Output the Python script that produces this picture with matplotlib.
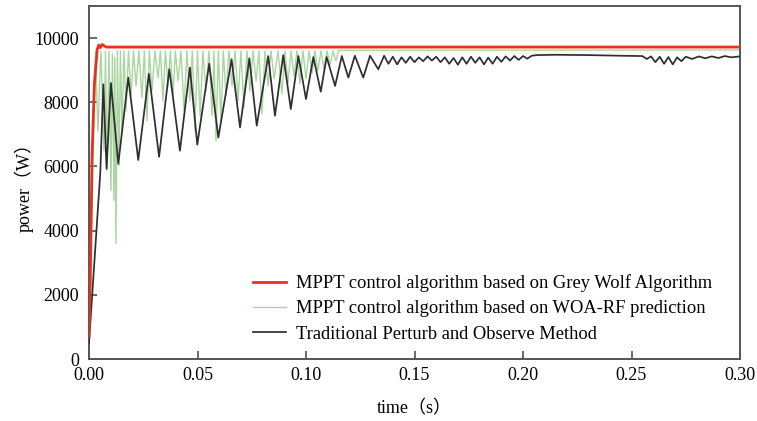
import numpy as np
import matplotlib
matplotlib.use("Agg")
import matplotlib.pyplot as plt

# --- values ---
red_t = [0.0, 0.0006, 0.0014, 0.0025, 0.0038, 0.0045, 0.0052, 0.0060, 0.0070, 0.0080, 0.30]
red_p = [700, 2500, 6300, 8600, 9650, 9780, 9700, 9800, 9760, 9720, 9720]

green_t = [0.0, 0.0030, 0.0041, 0.0055, 0.0069, 0.0076, 0.0083, 0.0092, 0.0101, 0.0108,
           0.0115, 0.0119, 0.0124, 0.0131, 0.0138, 0.0145, 0.0152, 0.0161, 0.0171, 0.0182,
           0.0194, 0.0205, 0.0217, 0.0230, 0.0244, 0.0255, 0.0267, 0.0278, 0.0290, 0.0304,
           0.0318, 0.0329, 0.0341, 0.0352, 0.0364, 0.0375, 0.0387, 0.0398, 0.0410, 0.0424,
           0.0438, 0.0451, 0.0465, 0.0476, 0.0488, 0.0500, 0.0512, 0.0525, 0.0539, 0.0553,
           0.0567, 0.0576, 0.0585, 0.0596, 0.0608, 0.0619, 0.0631, 0.0645, 0.0659, 0.0673,
           0.0687, 0.0700, 0.0714, 0.0728, 0.0742, 0.0756, 0.0770, 0.0783, 0.0797, 0.0811,
           0.0825, 0.0839, 0.0853, 0.0871, 0.0889, 0.0903, 0.0917, 0.0931, 0.0945, 0.0958,
           0.0972, 0.0986, 0.1000, 0.1014, 0.1028, 0.1041, 0.1055, 0.1069, 0.1083, 0.1097,
           0.1111, 0.1124, 0.1138, 0.1150, 0.30]
green_p = [700, 9600, 7100, 9600, 6490, 9600, 5870, 9600, 5250, 9500,
           4940, 9400, 3600, 9600, 6030, 9600, 7100, 9600, 7730, 9600,
           8200, 9600, 8510, 9600, 8140, 9600, 7420, 9600, 8350, 9600,
           8760, 9600, 8040, 9600, 8510, 9600, 8200, 9600, 8660, 9600,
           7730, 9600, 8040, 9600, 7110, 9600, 7580, 9600, 8350, 9600,
           7580, 9600, 6800, 9600, 7420, 9600, 8200, 9600, 8510, 9600,
           8040, 9600, 7830, 9600, 8350, 9600, 8660, 9600, 7640, 9600,
           8510, 9600, 8730, 9600, 8260, 9600, 8600, 9600, 8820, 9600,
           8570, 9600, 8730, 9600, 8910, 9600, 8980, 9600, 9040, 9600,
           9160, 9600, 9290, 9620, 9630]

black_t = [0.0, 0.0052, 0.0066, 0.0081, 0.0101, 0.0135, 0.0181, 0.0227, 0.0276, 0.0323,
           0.0370, 0.0419, 0.0465, 0.0499, 0.0554, 0.0596, 0.0657, 0.0696, 0.0739, 0.0773,
           0.0826, 0.0857, 0.0895, 0.0930, 0.0965, 0.1000, 0.1034, 0.1068, 0.1095, 0.1134,
           0.1165, 0.1195, 0.1225, 0.1264, 0.1295, 0.1333, 0.1360, 0.1380, 0.1400, 0.1420,
           0.1440, 0.1460, 0.1480, 0.1500, 0.1520, 0.1540, 0.1560, 0.1580, 0.1600, 0.1620,
           0.1640, 0.1660, 0.1680, 0.1700, 0.1720, 0.1740, 0.1760, 0.1780, 0.1800, 0.1820,
           0.1840, 0.1860, 0.1880, 0.1900, 0.1920, 0.1940, 0.1960, 0.1980, 0.2000, 0.2020,
           0.2040, 0.2065, 0.2150, 0.2300, 0.2450, 0.2550, 0.2570, 0.2590, 0.2610, 0.2630,
           0.2650, 0.2670, 0.2690, 0.2710, 0.2730, 0.2750, 0.2780, 0.2810, 0.2840, 0.2870,
           0.2900, 0.2930, 0.2960, 0.3000]
black_p = [500, 5800, 8560, 5930, 8600, 6080, 8770, 6200, 8890, 6300,
           9030, 6490, 9080, 6680, 9200, 6900, 9340, 7215, 9370, 7270,
           9440, 7580, 9470, 7790, 9440, 8100, 9410, 8330, 9410, 8510,
           9440, 8770, 9450, 8770, 9450, 9030, 9450, 9200, 9420, 9180,
           9400, 9230, 9420, 9250, 9400, 9280, 9430, 9300, 9420, 9250,
           9400, 9200, 9380, 9170, 9400, 9200, 9420, 9230, 9400, 9180,
           9390, 9200, 9420, 9260, 9430, 9300, 9440, 9320, 9440, 9360,
           9450, 9470, 9480, 9470, 9450, 9440, 9350, 9430, 9250, 9420,
           9200, 9410, 9180, 9400, 9280, 9420, 9350, 9430, 9370, 9430,
           9380, 9440, 9400, 9430]

labels = ["MPPT control algorithm based on Grey Wolf Algorithm",
          "MPPT control algorithm based on WOA-RF prediction",
          "Traditional Perturb and Observe Method"]
x_ticks = [0.00, 0.05, 0.10, 0.15, 0.20, 0.25, 0.30]
y_ticks = [0, 2000, 4000, 6000, 8000, 10000]

assert len(green_t) == len(green_p) and len(black_t) == len(black_p)

serif = ["Liberation Serif", "Noto Sans CJK SC"]
plt.rcParams["font.family"] = serif

fig = plt.figure(figsize=(7.57, 4.21), dpi=100)
ax = fig.add_axes([89 / 757, 62 / 421, 651 / 757, 353 / 421])

l_red, = ax.plot(red_t, red_p, color="#e8321e", lw=2.0, zorder=4)
l_green, = ax.plot(green_t, green_p, color="#a9d6a0", lw=1.0, zorder=2)
l_black, = ax.plot(black_t, black_p, color="#2e2e2e", lw=1.25, zorder=3,
                   solid_joinstyle="round")

ax.set_xlim(0, 0.30)
ax.set_ylim(0, 11000)
ax.set_xticks(x_ticks)
ax.set_xticklabels([f"{v:.2f}" for v in x_ticks])
ax.set_yticks(y_ticks)
ax.tick_params(direction="in", length=6, width=1.2, color="#505050", labelsize=13)
ax.tick_params(axis="x", pad=6)
ax.tick_params(axis="y", pad=7)

for s in ax.spines.values():
    s.set_color("#555555")
    s.set_linewidth(1.4)

ax.set_xlabel("time（s）", fontsize=13, labelpad=11)
ax.set_ylabel("power（W）", fontsize=13, labelpad=1)

ax.legend([l_red, l_green, l_black], labels, loc="upper left",
          bbox_to_anchor=(0.252, 0.24), frameon=False, fontsize=13.3,
          handlelength=1.8, handletextpad=0.55, labelspacing=0.45,
          borderpad=0, borderaxespad=0)

fig.savefig("out.png", dpi=100)
